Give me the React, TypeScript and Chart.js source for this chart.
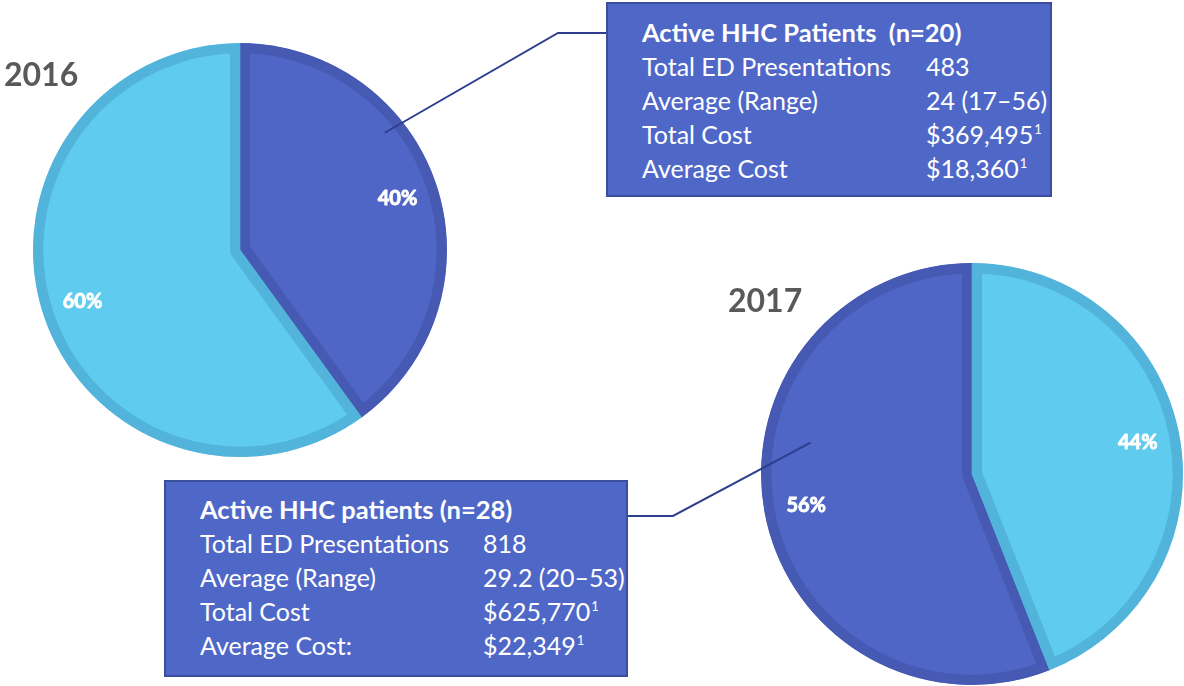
import React, { useEffect, useRef } from 'react';
import { Chart, registerables } from 'chart.js';

Chart.register(...registerables);

// ---------- data ----------
const categories = ['Active HHC patients', 'Other patients'];
const values2016 = [40, 60];
const values2017 = [56, 44];
const yearLabels = ['2016', '2017'];

const box2016Title = 'Active HHC Patients\u00a0 (n=20)';
const box2016Rows = ['Total ED Presentations', 'Average (Range)', 'Total Cost', 'Average Cost'];
const box2016Values = ['483', '24 (17\u201356)', '$369,495', '$18,360'];
const box2016Sup = ['', '', '1', '1'];

const box2017Title = 'Active HHC patients (n=28)';
const box2017Rows = ['Total ED Presentations', 'Average (Range)', 'Total Cost', 'Average Cost:'];
const box2017Values = ['818', '29.2 (20\u201353)', '$625,770', '$22,349'];
const box2017Sup = ['', '', '1', '1'];

// ---------- styles ----------
const DARK = '#4F66C6';
const DARK_BORDER = '#4659B3';
const LIGHT = '#5ECBEF';
const LIGHT_BORDER = '#52B4DB';
const LEADER = '#2E3E8E';
const FONT = 'Lato, "Open Sans", sans-serif';
const W = 1184;
const H = 686;

const pieExtras = {
  id: 'pieExtras',
  afterDatasetsDraw(chart: any, _args: any, opts: any) {
    const ctx = chart.ctx;
    const meta = chart.getDatasetMeta(0);
    const data = chart.data.datasets[0].data as number[];
    ctx.save();
    // leader line
    if (opts.leader) {
      const L = opts.leader;
      const arc = meta.data[L.index];
      const p = arc.getProps(['x', 'y', 'outerRadius'], true);
      const a = (L.angle * Math.PI) / 180;
      const sx = p.x + Math.cos(a) * p.outerRadius * L.frac;
      const sy = p.y + Math.sin(a) * p.outerRadius * L.frac;
      ctx.strokeStyle = LEADER;
      ctx.lineWidth = 2;
      ctx.beginPath();
      ctx.moveTo(sx, sy);
      ctx.lineTo(L.elbow[0], L.elbow[1]);
      ctx.lineTo(L.end[0], L.end[1]);
      ctx.stroke();
    }
    // value labels
    ctx.fillStyle = '#FFFFFF';
    ctx.strokeStyle = '#FFFFFF';
    ctx.lineWidth = 0.9;
    ctx.lineJoin = 'round';
    ctx.font = `bold 20px ${FONT}`;
    ctx.textAlign = 'center';
    ctx.textBaseline = 'middle';
    meta.data.forEach((el: any, i: number) => {
      const p = el.getProps(['x', 'y', 'startAngle', 'endAngle', 'outerRadius'], true);
      const mid = (p.startAngle + p.endAngle) / 2;
      const r = p.outerRadius * 0.8;
      const tx = p.x + Math.cos(mid) * r;
      const ty = p.y + Math.sin(mid) * r;
      ctx.fillText(`${data[i]}%`, tx, ty);
      ctx.strokeText(`${data[i]}%`, tx, ty);
    });
    ctx.restore();
  },
};

function PieChart(props: {
  values: number[];
  rotation: number;
  padding: { left: number; top: number; right: number; bottom: number };
  leader: any;
}) {
  const ref = useRef<HTMLCanvasElement | null>(null);
  useEffect(() => {
    if (!ref.current) return;
    const chart = new Chart(ref.current, {
      type: 'pie',
      data: {
        labels: categories,
        datasets: [
          {
            data: props.values,
            backgroundColor: [DARK, LIGHT],
            borderColor: [DARK_BORDER, LIGHT_BORDER],
            borderWidth: 10,
            borderAlign: 'inner',
            hoverOffset: 0,
            offset: 0,
          } as any,
        ],
      },
      options: {
        animation: false,
        responsive: false,
        devicePixelRatio: 1,
        rotation: props.rotation,
        events: [],
        layout: { padding: props.padding },
        plugins: {
          legend: { display: false },
          tooltip: { enabled: false },
          title: { display: false },
          pieExtras: { leader: props.leader },
        } as any,
      },
      plugins: [pieExtras],
    });
    return () => chart.destroy();
  }, []);
  return (
    <canvas
      ref={ref}
      width={W}
      height={H}
      style={{ position: 'absolute', left: 0, top: 0, width: W, height: H }}
    />
  );
}

function InfoBox(props: {
  left: number;
  top: number;
  width: number;
  height: number;
  padTop: number;
  labelWidth: number;
  title: string;
  rows: string[];
  values: string[];
  sups: string[];
}) {
  return (
    <div
      style={{
        position: 'absolute',
        left: props.left,
        top: props.top,
        width: props.width,
        height: props.height,
        boxSizing: 'border-box',
        background: '#4F68C8',
        border: '2px solid #3B4E9E',
        paddingTop: props.padTop,
        paddingLeft: 34,
        color: '#FFFFFF',
        fontFamily: FONT,
        fontSize: 25,
        lineHeight: '34px',
        zIndex: 2,
      }}
    >
      <div style={{ fontWeight: 700, whiteSpace: 'pre', height: 34, fontSize: 25.5 }}>
        {props.title}
      </div>
      {props.rows.map((r, i) => (
        <div key={i} style={{ display: 'flex', whiteSpace: 'nowrap', height: 34 }}>
          <div style={{ width: props.labelWidth }}>{r}</div>
          <div>
            {props.values[i]}
            {props.sups[i] ? (
              <span
                style={{
                  fontSize: 13,
                  lineHeight: 0,
                  position: 'relative',
                  top: -10,
                  marginLeft: 1,
                }}
              >
                {props.sups[i]}
              </span>
            ) : null}
          </div>
        </div>
      ))}
    </div>
  );
}

export default function App() {
  const yearStyle: React.CSSProperties = {
    position: 'absolute',
    fontFamily: FONT,
    fontWeight: 700,
    fontSize: 32,
    lineHeight: '32px',
    color: '#595959',
    zIndex: 2,
  };
  return (
    <div
      style={{
        position: 'fixed',
        left: 0,
        top: 0,
        width: W,
        height: H,
        background: '#FFFFFF',
        overflow: 'hidden',
      }}
    >
      <PieChart
        values={values2016}
        rotation={0}
        padding={{ left: 33, top: 43, right: W - 33 - 414, bottom: H - 43 - 414 }}
        leader={{ index: 0, angle: -39, frac: 0.9, elbow: [558, 33], end: [606, 33] }}
      />
      <PieChart
        values={values2017}
        rotation={(values2017[1] / 100) * 360}
        padding={{ left: 761, top: 263, right: W - 761 - 422, bottom: H - 263 - 422 }}
        leader={{ index: 0, angle: 191, frac: 0.78, elbow: [673, 516], end: [628, 516] }}
      />
      <div style={{ ...yearStyle, left: 4, top: 58 }}>{yearLabels[0]}</div>
      <div style={{ ...yearStyle, left: 728, top: 284 }}>{yearLabels[1]}</div>
      <InfoBox
        left={606}
        top={2}
        width={446}
        height={195}
        padTop={11}
        labelWidth={284}
        title={box2016Title}
        rows={box2016Rows}
        values={box2016Values}
        sups={box2016Sup}
      />
      <InfoBox
        left={164}
        top={480}
        width={464}
        height={197}
        padTop={10}
        labelWidth={283}
        title={box2017Title}
        rows={box2017Rows}
        values={box2017Values}
        sups={box2017Sup}
      />
    </div>
  );
}
